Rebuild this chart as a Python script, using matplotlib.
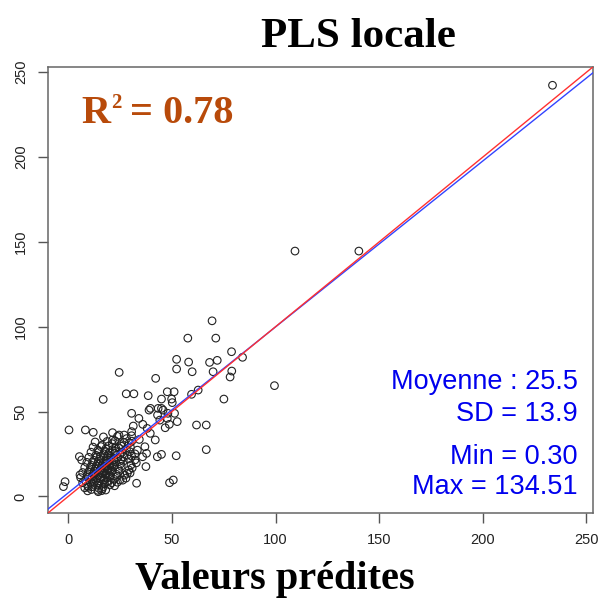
import matplotlib
matplotlib.use("agg")
import matplotlib.pyplot as plt
from matplotlib.transforms import offset_copy
import numpy as np

pred_outliers = [233.6, 109.4, 140.2, 99.5]
obs_outliers = [242.3, 144.6, 144.6, 65.3]

pred_upper = [69.4, 57.7, 71.2, 78.8, 84.1, 52.3, 58.1, 68.2, 71.9, 52.3,
              59.8, 69.9, 78.9, 78.1, 24.6, 42.2, 16.9, 28.0, 31.7, 38.6,
              47.8, 51.1, 45.0, 49.9, 50.2, 59.5, 62.7, 75.1]
obs_upper = [103.5, 93.3, 93.3, 85.3, 82.0, 80.8, 79.2, 79.0, 80.2, 75.1,
             73.5, 73.5, 73.9, 70.4, 73.1, 69.6, 57.2, 60.5, 60.5, 59.4,
             61.7, 61.7, 57.4, 57.4, 55.3, 60.2, 62.7, 57.4]

pred_mid = [45.0, 39.7, 39.0, 43.4, 45.8, 48.1, 51.3, 30.6, 34.1, 36.0,
            31.4, 38.1, 39.6, 42.0, 44.2, 47.8, 43.1, 52.6, 48.8, 46.8,
            61.9, 66.6, 66.6, 52.1, 45.0, 43.0, 37.0, 35.9, 37.8, 37.5,
            33.0, 48.9, 50.7, 28.5, 25.0, 32.2, 8.3, 12.1, 0.4, 21.4,
            24.5, 27.0, 30.6, 5.4, 6.5, 5.7, -1.5, -2.3, 16.1, 14.5]
obs_mid = [51.9, 51.9, 50.9, 51.9, 50.9, 49.0, 49.0, 49.0, 46.0, 42.5,
           41.5, 40.1, 37.2, 33.3, 45.0, 46.0, 48.0, 44.1, 42.5, 40.5,
           42.1, 42.1, 27.6, 24.0, 24.8, 23.4, 29.3, 23.4, 25.4, 17.6,
           7.8, 8.1, 9.7, 13.6, 9.7, 21.5, 39.2, 37.8, 39.2, 37.6,
           36.2, 36.2, 38.2, 23.5, 21.5, 12.7, 8.7, 5.8, 3.4, 2.8]

# dense cluster, row by row
cluster_rows = {
    4.5: [8, 9, 10, 11, 12, 14, 15, 16, 17, 18],
    7.5: [7, 9, 11, 12, 13, 14, 15, 17, 19, 20, 21, 22, 24],
    10.5: [6, 8, 10, 11, 12, 13, 14, 15, 16, 17, 18, 19, 20, 22, 24, 26, 28],
    13.5: [7, 9, 10, 12, 13, 14, 15, 16, 17, 18, 19, 20, 21, 23, 25, 27, 30],
    16.5: [8, 10, 11, 13, 14, 15, 16, 17, 18, 19, 20, 21, 22, 24, 26, 29, 31],
    19.5: [9, 11, 12, 14, 15, 16, 17, 18, 19, 20, 21, 22, 23, 25, 27, 30, 33],
    22.5: [10, 12, 14, 15, 16, 18, 19, 20, 21, 22, 24, 25, 27, 29, 31],
    25.5: [11, 13, 15, 17, 18, 19, 20, 22, 23, 25, 26, 28, 30, 32],
    28.5: [12, 14, 16, 18, 20, 21, 23, 24, 26, 28, 30, 33],
    31.5: [13, 16, 19, 21, 23, 25, 27, 29, 31],
    34.5: [17, 21, 24, 28, 31, 34],
}
# small row offsets so the circles do not line up perfectly
row_shift = [0.0, 1.1, -0.7, 0.6, -1.2, 0.9, -0.4, 1.3, -0.9, 0.3]

pred_cluster, obs_cluster = [], []
for yv, xs in cluster_rows.items():
    for i, xv in enumerate(xs):
        pred_cluster.append(xv + 0.35 * row_shift[i % 10])
        obs_cluster.append(yv + row_shift[(i + 3) % 10])

pred = np.array(pred_outliers + pred_upper + pred_mid + pred_cluster)
obs = np.array(obs_outliers + obs_upper + obs_mid + obs_cluster)

r2_value = "0.78"
stats_lines = ["Moyenne : 25.5", "SD = 13.9", "Min = 0.30", "Max = 134.51"]
ticks = [0, 50, 100, 150, 200, 250]

# fitted line: intercept and slope
fit_a, fit_b = 2.1, 0.978

fig = plt.figure(figsize=(6, 6.04), dpi=100)
ax = fig.add_axes([0.08, 0.1507, 0.908, 0.7383])

lims = (-9.73, 253.04)
ax.set_xlim(lims)
ax.set_ylim(lims)

ax.scatter(pred, obs, s=30, facecolors="none", edgecolors="#222222",
           linewidths=0.8, zorder=2)

xx = np.array(lims)
ax.plot(xx, fit_a + fit_b * xx, color="#3344ff", lw=1.0, zorder=3)
ax.plot(xx, xx, color="#ff3030", lw=1.0, zorder=3)

for sp in ax.spines.values():
    sp.set_color("#666666")
    sp.set_linewidth(1.1)

ax.set_xticks(ticks)
ax.set_yticks(ticks)
ax.tick_params(direction="out", length=7.5, width=1.0, color="#555555",
               labelsize=10.5, labelcolor="#222222", pad=7)
for lab in ax.get_xticklabels() + ax.get_yticklabels():
    lab.set_family("Liberation Sans")
for lab in ax.get_yticklabels():
    lab.set_rotation(90)
    lab.set_va("center")

# R^2 label: "R", small raised "2", then the value
r2_kw = dict(color="#b84a0a", fontweight="bold", family="Liberation Serif",
             va="baseline", ha="left")
t_r = ax.text(0.062, 0.874, "R", transform=ax.transAxes, fontsize=29, **r2_kw)
fig.canvas.draw()
w_r = t_r.get_window_extent().width * 72 / fig.dpi
t_sup = ax.text(0.062, 0.874, "2", fontsize=15,
                transform=offset_copy(ax.transAxes, fig=fig, x=w_r + 0.5, y=11, units="points"),
                **r2_kw)
ax.text(0.062, 0.874, "= " + r2_value, fontsize=29,
        transform=offset_copy(ax.transAxes, fig=fig, x=w_r + 14, y=0, units="points"),
        **r2_kw)

for txt, yb in zip(stats_lines, [0.2775, 0.2058, 0.11, 0.0426]):
    ax.text(0.9725, yb, txt, transform=ax.transAxes, color="#0000ee",
            fontsize=19.5, family="Liberation Sans", ha="right", va="baseline")

fig.text(358 / 600, 0.922, "PLS locale", fontsize=31, fontweight="bold",
         family="Liberation Serif", ha="center", va="baseline")
fig.text(275 / 600, 0.025, "Valeurs pr\u00e9dites", fontsize=29, fontweight="bold",
         family="Liberation Serif", ha="center", va="baseline")

fig.savefig("out.png", dpi=100)
